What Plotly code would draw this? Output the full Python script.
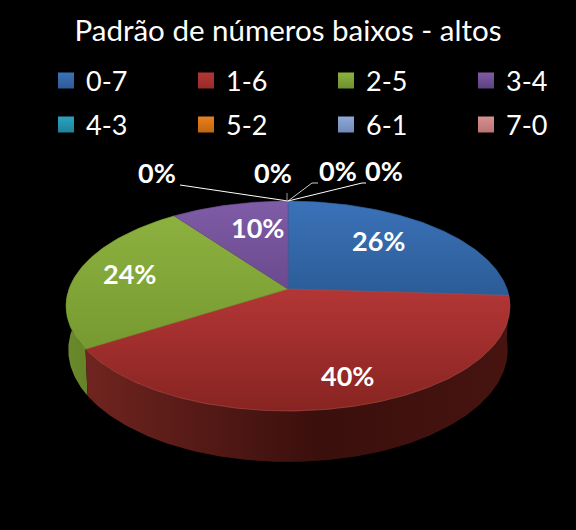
import math
import plotly.graph_objects as go

TITLE = "Padrão de números baixos - altos"
categories = ["0-7", "1-6", "2-5", "3-4", "4-3", "5-2", "6-1", "7-0"]
values = [26, 40, 24, 10, 0, 0, 0, 0]
top_light = ["#3b72b8", "#b33636", "#8db13f", "#7f5ca6", "#2aa3bf", "#e8801e", "#8faad8", "#d89090"]
top_dark = ["#2b5c97", "#872421", "#769a30", "#6a4a8e", "#2aa3bf", "#e8801e", "#8faad8", "#d89090"]
side_left = ["#1f4470", "#70241f", "#6a8a2c", "#4d3569", "#1d7488", "#a55a12", "#64789a", "#996666"]
side_right = ["#1b3a60", "#471410", "#5b7823", "#43305c", "#1d7488", "#a55a12", "#64789a", "#996666"]
swatch_dark = ["#2f5a96", "#962b28", "#6f9030", "#5c4180", "#1f8298", "#c0660f", "#6f8ab8", "#b87474"]

# projection of the tilted disc into the 576x530 picture
CX, CY, A, B, K, DEPTH, BOTTOM_SCALE = 288, 289, 219, 102.2, 0.162, 42.7, 0.99
LEGEND_X = [46, 186, 326, 466]
LEGEND_Y = [81, 125]


def project(pct, bottom=False):
    t = 2 * math.pi * pct / 100
    X, Y = math.sin(t), math.cos(t)
    d = 1 + K * Y
    if bottom:
        return CX + BOTTOM_SCALE * A * X / d, CY - B * Y / d + DEPTH / d
    return CX + A * X / d, CY - B * Y / d


def arc(a, b, bottom=False):
    n = max(2, int((b - a) * 4))
    return [project(a + (b - a) * i / n, bottom) for i in range(n + 1)]


fig = go.Figure()
total = sum(values)
starts = []
acc = 0
for v in values:
    starts.append(acc)
    acc += 100 * v / total

# extruded rim first, so the top faces cover everything that is out of sight
for order in [3, 0, 2, 1]:
    s, v = starts[order], values[order]
    pts = arc(s, s + v) + arc(s, s + v, True)[::-1]
    fig.add_trace(go.Scatter(
        x=[p[0] for p in pts], y=[p[1] for p in pts], mode="lines", fill="toself",
        line=dict(width=0), fillgradient=dict(
            type="horizontal",
            colorscale=[[0, side_left[order]], [0.55, "#3a0f0c" if order == 1 else side_right[order]],
                        [1, side_right[order]]]),
        showlegend=False, hoverinfo="skip"))

for i, (s, v) in enumerate(zip(starts, values)):
    if v == 0:
        continue
    pts = [(CX, CY)] + arc(s, s + v) + [(CX, CY)]
    fig.add_trace(go.Scatter(
        x=[p[0] for p in pts], y=[p[1] for p in pts], mode="lines", fill="toself",
        line=dict(width=0.6, color="#b5524a" if i == 1 else top_dark[i]),
        fillgradient=dict(type="vertical", colorscale=[[0, top_dark[i]], [1, top_light[i]]]),
        name=categories[i], showlegend=False, hoverinfo="skip"))

# leader lines for the empty slices
leaders = [[(288, 201), (180, 185)], [(287, 201), (287, 193)],
           [(288, 201), (312, 183), (318, 183)], [(288, 201), (362, 183), (366, 183)]]
for pts, col in zip(leaders, ["#ffffff", "#999999", "#cccccc", "#ffffff"]):
    fig.add_trace(go.Scatter(x=[p[0] for p in pts], y=[p[1] for p in pts], mode="lines",
                             line=dict(color=col, width=1), showlegend=False, hoverinfo="skip"))

# legend entries: one legend per cell of the 4x2 grid
legend_layout = {}
for i, c in enumerate(categories):
    key = "legend" if i == 0 else f"legend{i + 1}"
    fig.add_trace(go.Scatter(
        x=[None], y=[None], mode="markers", name=c, legend=key,
        marker=dict(symbol="square", size=16, color=top_light[i], line=dict(width=0),
                    gradient=dict(type="vertical", color=swatch_dark[i]))))
    legend_layout[key] = dict(
        x=LEGEND_X[i % 4] / 576, y=1 - LEGEND_Y[i // 4] / 530, xanchor="left", yanchor="middle",
        itemsizing="trace", itemwidth=30, bgcolor="rgba(0,0,0,0)",
        font=dict(family="Lato", size=27, color="white"))

label_pos = [(378, 240), (347, 375), (129, 273), (257, 227), (157, 172), (273, 172), (338, 170), (384, 170)]
annotations = [dict(x=p[0], y=p[1], xref="x", yref="y", text=f"<b>{v}%</b>", showarrow=False,
                    font=dict(family="Lato", size=27, color="white"))
               for p, v in zip(label_pos, values)]

fig.update_layout(
    width=576, height=530, margin=dict(l=0, r=0, t=0, b=0), autosize=False,
    paper_bgcolor="black", plot_bgcolor="black",
    title=dict(text=TITLE, x=0.5, xanchor="center", y=1 - 31 / 530, yanchor="middle",
               font=dict(family="Lato", size=29.5, color="white")),
    xaxis=dict(range=[0, 576], visible=False),
    yaxis=dict(range=[530, 0], visible=False),
    annotations=annotations,
    **legend_layout,
)
fig.write_html("out.html", config={"displayModeBar": False},
               post_script="document.documentElement.style.background='black';"
                           "document.body.style.margin='0';document.body.style.background='black';")
